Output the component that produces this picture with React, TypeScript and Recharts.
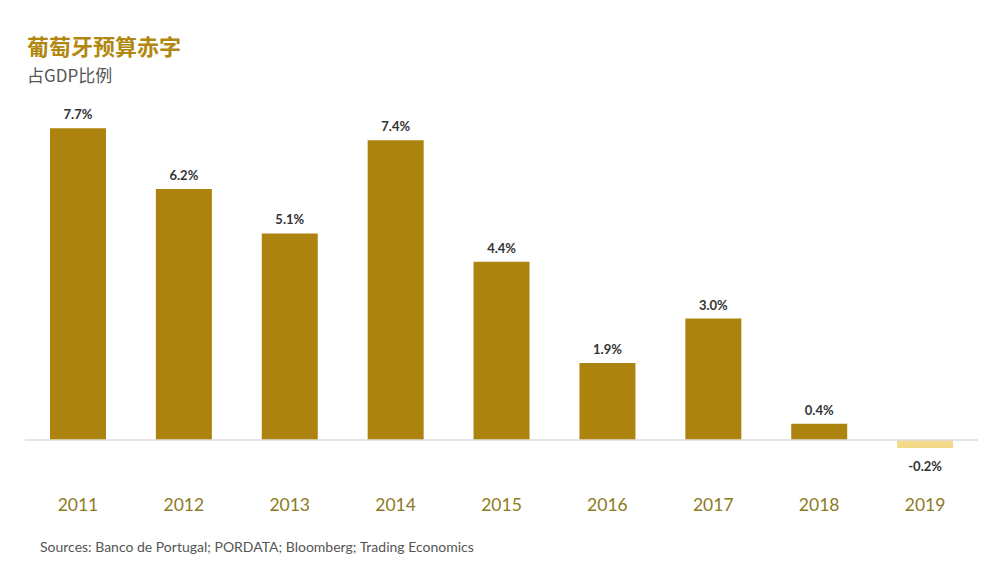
import React from "react";
import { BarChart, Bar, XAxis, YAxis, Cell, LabelList, ReferenceLine } from "recharts";

const years = ["2011", "2012", "2013", "2014", "2015", "2016", "2017", "2018", "2019"];
const deficit = [7.7, 6.2, 5.1, 7.4, 4.4, 1.9, 3.0, 0.4, -0.2];
const labels = ["7.7%", "6.2%", "5.1%", "7.4%", "4.4%", "1.9%", "3.0%", "0.4%", "-0.2%"];

const data = years.map((y, i) => ({ year: y, value: deficit[i], label: labels[i] }));

const GOLD = "#ad830f";
const LIGHT = "#f3d98a";

const renderLabel = (props: any) => {
  const { x, y, width, height, index } = props;
  const v = deficit[index];
  const top = Math.min(y, y + height);
  const bottom = Math.max(y, y + height);
  const cx = x + width / 2;
  const ty = v >= 0 ? top - 9 : bottom + 23;
  return (
    <text
      x={cx}
      y={ty}
      textAnchor="middle"
      fontFamily="Lato, 'Open Sans', sans-serif"
      fontWeight={700}
      fontSize={13}
      fill="#333"
    >
      {labels[index]}
    </text>
  );
};

export default function App() {
  return (
    <div style={{ position: "absolute", left: 0, top: 0, width: 995, height: 565, background: "#fff" }}>
      <div
        style={{
          position: "absolute",
          left: 27,
          top: 30,
          fontFamily: "'Noto Sans CJK SC', sans-serif",
          fontWeight: 700,
          fontSize: 22,
          color: "#b0870f",
          lineHeight: "30px",
        }}
      >
        葡萄牙预算赤字
      </div>
      <div
        style={{
          position: "absolute",
          left: 27,
          top: 62,
          fontFamily: "'Noto Sans CJK SC', sans-serif",
          fontSize: 17,
          color: "#555",
          lineHeight: "26px",
        }}
      >
        占GDP比例
      </div>
      <div
        style={{
          position: "absolute",
          left: 40,
          top: 537,
          fontFamily: "Lato, 'Open Sans', sans-serif",
          fontSize: 14,
          color: "#555",
          lineHeight: "20px",
        }}
      >
        Sources: Banco de Portugal; PORDATA; Bloomberg; Trading Economics
      </div>
      <div style={{ position: "absolute", left: 0, top: 0 }}>
        <BarChart
          width={995}
          height={565}
          data={data}
          margin={{ top: 116, right: 17, bottom: 54.5, left: 25 }}
        >
          <YAxis hide domain={[-1, 8]} type="number" />
          <XAxis
            dataKey="year"
            axisLine={false}
            tickLine={false}
            height={30}
            tickMargin={12}
            tick={{ fill: "#8c7b22", fontSize: 17.5, fontFamily: "Lato, 'Open Sans', sans-serif" }}
          />
          <ReferenceLine y={0} stroke="#dddddd" strokeWidth={1.5} />
          <Bar dataKey="value" barSize={56} isAnimationActive={false}>
            {data.map((d, i) => (
              <Cell key={d.year} fill={d.value < 0 ? LIGHT : GOLD} />
            ))}
            <LabelList dataKey="label" content={renderLabel} />
          </Bar>
        </BarChart>
      </div>
    </div>
  );
}
